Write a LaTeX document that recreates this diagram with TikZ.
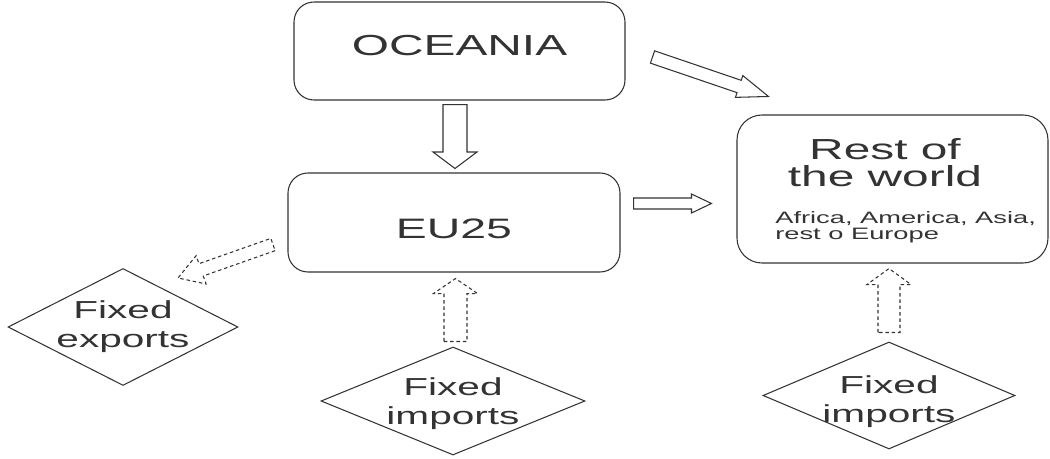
\documentclass[tikz,border=0pt]{standalone}
\usepackage{fontspec}
\setmainfont{Liberation Sans}[FakeStretch=1.65]
\usetikzlibrary{calc,shapes.geometric}
\definecolor{inkgray}{HTML}{333333}
\tikzset{
  ba shaft/.store in=\bashaft, ba shaft=0.12cm,
  ba wing/.store in=\bawing, ba wing=0.2cm,
  ba head/.store in=\bahead, ba head=0.35cm,
}

\begin{document}
\begin{tikzpicture}[
  region/.style={draw=inkgray, rounded corners=0.4cm, line width=0.6pt, text=inkgray},
  fixbox/.style={draw=inkgray, diamond, line width=0.6pt, inner sep=0pt},
  fixtext/.style={text=inkgray, align=center, font=\fontsize{14}{16.4}\selectfont},
  blockarrow/.style={draw=inkgray, line width=0.6pt, line join=miter, to path={
    (\tikztostart) coordinate (ba-s) (\tikztotarget) coordinate (ba-t)
    ($(ba-t)!\bahead!(ba-s)$) coordinate (ba-h)
    ($(ba-s)!\bashaft!90:(ba-t)$) -- ($(ba-h)!\bashaft!90:(ba-t)$)
    -- ($(ba-h)!\bawing!90:(ba-t)$) -- (ba-t) -- ($(ba-h)!\bawing!-90:(ba-t)$)
    -- ($(ba-h)!\bashaft!-90:(ba-t)$) -- ($(ba-s)!\bashaft!-90:(ba-t)$) -- cycle}},
  fixflow/.style={blockarrow, dash pattern=on 2pt off 1.6pt},
]
  \useasboundingbox (0,0) rectangle (21,-9.18);

  % Regions
  \node[region, minimum width=6.62cm, minimum height=1.96cm, text depth=6.8pt, font=\fontsize{16.5}{19}\selectfont] (oce) at (9.19,-1.02) {OCEANIA};
  \node[region, minimum width=6.64cm, minimum height=1.98cm, text height=18pt, font=\fontsize{16}{19}\selectfont] (eu) at (9.08,-4.45) {EU25};
  \node[region, rounded corners=0.5cm, minimum width=6.22cm, minimum height=2.96cm] (row) at (17.85,-3.78) {};
  \node[text=inkgray, align=center, inner sep=0pt, font=\fontsize{16.5}{15.2}\selectfont] (rowname) at (17.7,-3.26) {Rest of\\the world};
  \node[text=inkgray, align=left, anchor=north west, inner sep=0pt, font=\fontsize{9.4}{9}\selectfont] (rowlist) at (15.5,-4.22) {Africa, America, Asia,\\rest o Europe};

  % Fixed flows
  \node[fixbox, minimum width=4.6cm, minimum height=2.34cm, label={[fixtext]center:Fixed\\exports}] (fexp) at (2.46,-6.54) {};
  \node[fixbox, minimum width=5.28cm, minimum height=2.16cm, label={[fixtext, yshift=-0.06cm]center:Fixed\\imports}] (impeu) at (9.06,-8.02) {};
  \node[fixbox, minimum width=5.04cm, minimum height=2.14cm, label={[fixtext, yshift=-0.12cm]center:Fixed\\imports}] (improw) at (17.78,-7.91) {};

  % Trade arrows
  \draw[blockarrow, ba shaft=0.24cm, ba wing=0.44cm, ba head=0.33cm] ($(oce.south)+(-0.09,-0.08)$) to ($(eu.north)+(0.02,0.08)$);
  \draw[blockarrow, ba shaft=0.11cm, ba wing=0.19cm, ba head=0.4cm] ($(eu.east)+(0.26,0.38)$) to ($(row.west)+(-0.5,-0.29)$);
  \draw[blockarrow, ba shaft=0.13cm, ba wing=0.23cm, ba head=0.62cm] ($(oce.east)+(0.54,-0.12)$) to ($(row.north west)+(0.64,0.36)$);
  \draw[fixflow, ba shaft=0.13cm, ba wing=0.3cm, ba head=0.49cm] ($(eu.south west)+(-0.29,0.56)$) to ($(fexp.north)+(1.1,-0.2)$);
  \draw[fixflow, ba shaft=0.23cm, ba wing=0.44cm, ba head=0.3cm] ($(impeu.north)+(0.05,0.1)$) to ($(eu.south)+(0.03,-0.12)$);
  \draw[fixflow, ba shaft=0.22cm, ba wing=0.44cm, ba head=0.32cm] ($(improw.north)+(0,0.18)$) to ($(row.south)+(-0.07,-0.1)$);
\end{tikzpicture}
\end{document}
